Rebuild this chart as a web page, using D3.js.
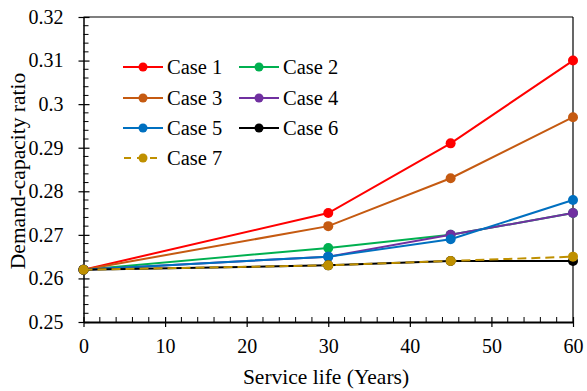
<!DOCTYPE html>
<html><head><meta charset="utf-8">
<script src="https://cdn.jsdelivr.net/npm/d3@7"></script>
<style>body{margin:0;background:#fff}svg text{font-family:"Liberation Serif","Times New Roman",serif;fill:#000}</style>
</head><body><svg id="c" width="587" height="391"></svg>
<script>
const years = [0, 30, 45, 60];
const caseNames = ["Case 1","Case 2","Case 3","Case 4","Case 5","Case 6","Case 7"];
const case1 = [0.262, 0.275, 0.291, 0.310];
const case2 = [0.262, 0.267, 0.270, 0.275];
const case3 = [0.262, 0.272, 0.283, 0.297];
const case4 = [0.262, 0.265, 0.270, 0.275];
const case5 = [0.262, 0.265, 0.269, 0.278];
const case6 = [0.262, 0.263, 0.264, 0.264];
const case7 = [0.262, 0.263, 0.264, 0.265];
const colors = ["#ff0000","#00b050","#c55a11","#7030a0","#0070c0","#000000","#bf9000"];
const xTicks = [0,10,20,30,40,50,60];
const yTicks = [0.25,0.26,0.27,0.28,0.29,0.30,0.31,0.32];
const yTickLabels = ["0.25","0.26","0.27","0.28","0.29","0.3","0.31","0.32"];
const series = [case1,case2,case3,case4,case5,case6,case7];

const FONT = "'Liberation Serif','Times New Roman',serif";
const svg = d3.select("#c");
const L=83.5, R=573, T=17, B=322;
const x = d3.scaleLinear().domain([0,60]).range([L,R]);
const y = d3.scaleLinear().domain([0.25,0.32]).range([B,T]);

// frame
svg.append("line").attr("x1",L).attr("x2",R).attr("y1",T).attr("y2",T).attr("stroke","#000").attr("stroke-width",1.2);
svg.append("line").attr("x1",R).attr("x2",R).attr("y1",T).attr("y2",B).attr("stroke","#000").attr("stroke-width",1.2);

// minor ticks
const xMinor = d3.range(0,61,2).filter(v=>v%10!==0);
svg.append("g").selectAll("line").data(xMinor).join("line")
 .attr("x1",d=>x(d)).attr("x2",d=>x(d)).attr("y1",B).attr("y2",B-5).attr("stroke","#000").attr("stroke-width",1);
const yMinor = d3.range(0,36).map(i=>0.25+i*0.002).filter((v,i)=>i%5!==0);
svg.append("g").selectAll("line").data(yMinor).join("line")
 .attr("x1",L).attr("x2",L+5).attr("y1",d=>y(d)).attr("y2",d=>y(d)).attr("stroke","#000").attr("stroke-width",1);

// axes
const xAxis = d3.axisBottom(x).tickValues(xTicks).tickSize(0).tickPadding(17).tickFormat(d3.format("d"));
const gx = svg.append("g").attr("transform",`translate(0,${B})`).call(xAxis).attr("font-family",FONT).attr("font-size",20);
gx.select(".domain").attr("stroke-width",2);
gx.selectAll(".tick text").style("font-family",FONT).style("font-size","20px");
gx.selectAll(".tick").append("line").attr("y1",-5).attr("y2",5).attr("stroke","#000").attr("stroke-width",1.2);

const yAxis = d3.axisLeft(y).tickValues(yTicks).tickSize(0).tickPadding(20).tickFormat((d,i)=>yTickLabels[i]);
const gy = svg.append("g").attr("transform",`translate(${L},0)`).call(yAxis).attr("font-family",FONT).attr("font-size",20);
gy.select(".domain").attr("stroke-width",1.5);
gy.selectAll(".tick text").style("font-family",FONT).style("font-size","20px");
gy.selectAll(".tick").append("line").attr("x1",-5).attr("x2",6).attr("stroke","#000").attr("stroke-width",1.2);

// titles
svg.append("text").attr("x",326).attr("y",384).attr("text-anchor","middle").style("font-size","21.5px").text("Service life (Years)");
svg.append("text").attr("transform",`translate(25,171) rotate(-90)`).attr("text-anchor","middle").style("font-size","21.5px").text("Demand-capacity ratio");

// series
const line = d3.line().x((d,i)=>x(years[i])).y(d=>y(d));
series.forEach((s,k)=>{
  const g = svg.append("g");
  g.append("path").datum(s).attr("d",line).attr("fill","none").attr("stroke",colors[k]).attr("stroke-width",2)
   .attr("stroke-dasharray",k===6?"9,5":null);
  g.selectAll("circle").data(s).join("circle").attr("cx",(d,i)=>x(years[i])).attr("cy",d=>y(d)).attr("r",5).attr("fill",colors[k]);
});

// legend
const legX=[123,239], legY=[67,98,128,158];
caseNames.forEach((n,k)=>{
  const cx = legX[k%2], cy = legY[Math.floor(k/2)];
  const g = svg.append("g");
  g.append("line").attr("x1",cx).attr("x2",cx+40).attr("y1",cy).attr("y2",cy).attr("stroke",colors[k]).attr("stroke-width",2)
   .attr("stroke-dasharray",k===6?"7,6":null).attr("stroke-dashoffset",k===6?-1:null);
  g.append("circle").attr("cx",cx+20).attr("cy",cy).attr("r",4.5).attr("fill",colors[k]);
  g.append("text").attr("x",cx+44).attr("y",cy+7).style("font-size","20.5px").text(n);
});
</script></body></html>
